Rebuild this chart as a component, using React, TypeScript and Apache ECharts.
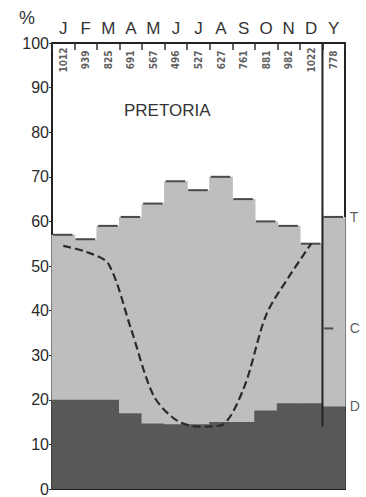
import React, { useEffect, useRef } from "react";
import * as echarts from "echarts";

const categories = ["J", "F", "M", "A", "M", "J", "J", "A", "S", "O", "N", "D", "Y"];
const topValues = [57, 56, 59, 61, 64, 69, 67, 70, 65, 60, 59, 55, 61];
const darkValues = [20, 20, 20, 17, 14.7, 14.5, 14.5, 15, 15, 17.6, 19.2, 19.2, 18.5];
const dashValues = [54.5, 53.2, 50.5, 36, 21, 15.5, 14, 14.3, 22.5, 39, 47.5, 55, null];
const topNumbers = [1012, 939, 825, 691, 567, 496, 527, 627, 761, 881, 982, 1022, 778];
const yearLetters = ["T", "C", "D"];
const yearLetterValues = [61, 36, 18.5];
const yearMean = 36;
const numberLevel = 96.2;
const dividerRange = [100, 14];

const FONT = "'Liberation Sans', Arial, sans-serif";
const DARK = "#585858";
const LIGHT = "#bebebe";

export default function App() {
  const ref = useRef<HTMLDivElement>(null);
  useEffect(() => {
    if (!ref.current) return;
    const chart = echarts.init(ref.current, null, { renderer: "svg" });
    const option: any = {
      animation: false,
      backgroundColor: "#ffffff",
      textStyle: { fontFamily: FONT },
      title: {
        text: "PRETORIA",
        left: 124,
        top: 102,
        padding: 0,
        textStyle: { fontSize: 17, fontWeight: "normal", color: "#333", fontFamily: FONT },
      },
      graphic: [
        {
          type: "text",
          left: 19,
          top: 9,
          style: { text: "%", fontSize: 18, fill: "#333", font: "18px " + FONT },
        },
      ],
      grid: {
        left: 52,
        right: 21,
        top: 43,
        bottom: 6,
        show: true,
        borderColor: "#222",
        borderWidth: 2,
        backgroundColor: "transparent",
      },
      xAxis: {
        type: "category",
        position: "top",
        data: categories,
        boundaryGap: true,
        axisLine: { show: true, onZero: false, lineStyle: { color: "#222", width: 2 } },
        axisTick: { show: true, inside: true, length: 7, interval: 0, lineStyle: { color: "#333", width: 1.5 } },
        axisLabel: { interval: 0, fontSize: 17, color: "#333", margin: 6, fontFamily: FONT },
        splitLine: { show: false },
      },
      yAxis: {
        type: "value",
        min: 0,
        max: 100,
        interval: 10,
        axisLine: { show: true, onZero: false, lineStyle: { color: "#222", width: 2 } },
        axisTick: { show: true, length: 3, lineStyle: { color: "#333" } },
        axisLabel: { fontSize: 16, color: "#2a2a2a", margin: 3, fontFamily: FONT },
        splitLine: { show: false },
      },
      series: [
        {
          type: "custom",
          z: 1,
          data: topValues.map((v, i) => [i, v, darkValues[i]]),
          renderItem: (params: any, api: any) => {
            const i = api.value(0);
            const top = api.coord([i, api.value(1)]);
            const mid = api.coord([i, api.value(2)]);
            const base = api.coord([i, 0]);
            const w = api.size([1, 0])[0];
            const x0 = top[0] - w / 2 - 0.6;
            const ww = w + 1.2;
            return {
              type: "group",
              children: [
                {
                  type: "rect",
                  shape: { x: x0, y: top[1], width: ww, height: mid[1] - top[1] + 0.6 },
                  style: { fill: LIGHT },
                },
                {
                  type: "rect",
                  shape: { x: x0, y: mid[1], width: ww, height: base[1] - mid[1] },
                  style: { fill: DARK },
                },
                {
                  type: "line",
                  shape: { x1: top[0] - w / 2 + 1, y1: top[1], x2: top[0] + w / 2 - 2, y2: top[1] },
                  style: { stroke: "#4a4a4a", lineWidth: 2 },
                },
              ],
            };
          },
        },
        {
          type: "custom",
          z: 4,
          data: [[categories.length - 1, dividerRange[0], dividerRange[1]]],
          renderItem: (params: any, api: any) => {
            const t = api.coord([api.value(0), api.value(1)]);
            const b = api.coord([api.value(0), api.value(2)]);
            const w = api.size([1, 0])[0];
            const x = t[0] - w / 2;
            return {
              type: "line",
              shape: { x1: x, y1: t[1], x2: x, y2: b[1] },
              style: { stroke: "#222", lineWidth: 2 },
            };
          },
        },
        {
          type: "line",
          data: dashValues,
          smooth: 0.3,
          showSymbol: false,
          connectNulls: false,
          lineStyle: { color: "#2a2a2a", width: 2.2, type: [8, 4] },
          z: 5,
        },
        {
          type: "scatter",
          data: topNumbers.map((n, i) => [i, numberLevel, n]),
          symbolSize: 0,
          label: {
            show: true,
            position: "inside",
            rotate: 90,
            fontSize: 10,
            fontWeight: "bold",
            color: "#333",
            fontFamily: "'DejaVu Sans Condensed', 'DejaVu Sans', sans-serif",
            formatter: (p: any) => String(p.value[2]),
          },
          z: 6,
        },
        {
          type: "scatter",
          data: yearLetters.map((l, i) => [categories.length - 1, yearLetterValues[i], l]),
          symbolSize: 0,
          label: {
            show: true,
            position: "right",
            distance: 16,
            fontSize: 14,
            color: "#333",
            fontFamily: FONT,
            formatter: (p: any) => String(p.value[2]),
          },
          z: 6,
        },
        {
          type: "scatter",
          data: [[categories.length - 1, yearMean]],
          symbol: "rect",
          symbolSize: [9, 2],
          symbolOffset: [-5, 0],
          itemStyle: { color: "#333" },
          z: 6,
        },
      ],
    };
    chart.setOption(option);
    return () => chart.dispose();
  }, []);
  return (
    <div
      ref={ref}
      style={{ position: "absolute", left: 0, top: 0, width: 366, height: 497 }}
    />
  );
}
